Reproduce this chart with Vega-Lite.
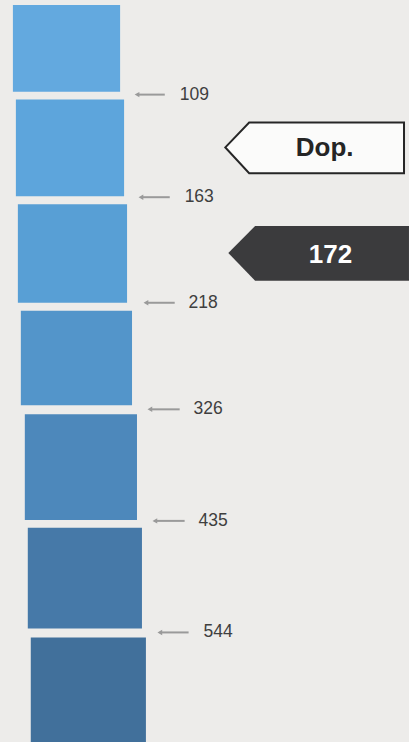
{
  "$schema": "https://vega.github.io/schema/vega-lite/v6.json",
  "width": 409,
  "height": 742,
  "padding": 0,
  "autosize": {"type": "fit", "contains": "padding"},
  "background": "#edecea",
  "config": {"view": {"stroke": null}},
  "datasets": {
    "pads": [
      {"pad": "1", "left": 13, "right": 121, "top": 5, "bottom": 92},
      {"pad": "2", "left": 16, "right": 125, "top": 100, "bottom": 197},
      {"pad": "3", "left": 18, "right": 128, "top": 205, "bottom": 304},
      {"pad": "4", "left": 21, "right": 133, "top": 312, "bottom": 407},
      {"pad": "5", "left": 25, "right": 138, "top": 416, "bottom": 522},
      {"pad": "6", "left": 28, "right": 143, "top": 530, "bottom": 631},
      {"pad": "7", "left": 31, "right": 147, "top": 640, "bottom": 745}
    ],
    "marks": [
      {"label": "109", "from": 138, "to": 166, "at": 95, "textAt": 181},
      {"label": "163", "from": 142, "to": 171, "at": 198, "textAt": 186},
      {"label": "218", "from": 147, "to": 176, "at": 304, "textAt": 190},
      {"label": "326", "from": 151, "to": 181, "at": 411, "textAt": 195},
      {"label": "435", "from": 156, "to": 186, "at": 523, "textAt": 200},
      {"label": "544", "from": 161, "to": 190, "at": 635, "textAt": 205}
    ],
    "tags": [
      {"tag": "Dop.", "px": 227, "lo": 148, "hi": 148},
      {"tag": "Dop.", "px": 251, "lo": 123, "hi": 174},
      {"tag": "Dop.", "px": 407, "lo": 123, "hi": 174},
      {"tag": "172", "px": 230, "lo": 254, "hi": 254},
      {"tag": "172", "px": 257, "lo": 227, "hi": 282},
      {"tag": "172", "px": 412, "lo": 227, "hi": 282}
    ],
    "tagText": [
      {"tag": "Dop.", "cx": 327, "cy": 149},
      {"tag": "172", "cx": 333, "cy": 256}
    ]
  },
  "layer": [
    {
      "data": {"name": "pads"},
      "mark": {"type": "rect"},
      "encoding": {
        "x": {"field": "left", "type": "quantitative", "scale": {"domain": [0, 409], "nice": false, "zero": false}, "axis": null},
        "x2": {"field": "right"},
        "y": {"field": "top", "type": "quantitative", "scale": {"domain": [0, 742], "nice": false, "zero": false, "reverse": true}, "axis": null},
        "y2": {"field": "bottom"},
        "color": {"field": "pad", "type": "nominal", "legend": null,
          "scale": {"domain": ["1", "2", "3", "4", "5", "6", "7"],
                    "range": ["#63a9df", "#5da5dc", "#589fd5", "#5395ca", "#4d88bb", "#4679a8", "#41709b"]}}
      }
    },
    {
      "data": {"name": "marks"},
      "mark": {"type": "rule", "color": "#9a9a9a", "strokeWidth": 2},
      "encoding": {
        "x": {"field": "from", "type": "quantitative", "axis": null},
        "x2": {"field": "to"},
        "y": {"field": "at", "type": "quantitative", "axis": null}
      }
    },
    {
      "data": {"name": "marks"},
      "mark": {"type": "point", "shape": "triangle-left", "filled": true, "size": 30, "color": "#9a9a9a", "opacity": 1},
      "encoding": {
        "x": {"field": "from", "type": "quantitative", "axis": null},
        "y": {"field": "at", "type": "quantitative", "axis": null}
      }
    },
    {
      "data": {"name": "marks"},
      "mark": {"type": "text", "align": "left", "baseline": "middle", "font": "Liberation Sans", "fontSize": 17.5, "color": "#3f3f3f"},
      "encoding": {
        "x": {"field": "textAt", "type": "quantitative", "axis": null},
        "y": {"field": "at", "type": "quantitative", "axis": null},
        "text": {"field": "label"}
      }
    },
    {
      "data": {"name": "tags"},
      "transform": [{"filter": "datum.tag === 'Dop.'"}],
      "mark": {"type": "area", "fill": "#fbfbfa", "stroke": "#262626", "strokeWidth": 2, "strokeJoin": "miter", "opacity": 1},
      "encoding": {
        "x": {"field": "px", "type": "quantitative", "axis": null},
        "y": {"field": "lo", "type": "quantitative", "axis": null},
        "y2": {"field": "hi"}
      }
    },
    {
      "data": {"name": "tags"},
      "transform": [{"filter": "datum.tag === '172'"}],
      "mark": {"type": "area", "fill": "#3b3b3d", "opacity": 1},
      "encoding": {
        "x": {"field": "px", "type": "quantitative", "axis": null},
        "y": {"field": "lo", "type": "quantitative", "axis": null},
        "y2": {"field": "hi"}
      }
    },
    {
      "data": {"name": "tagText"},
      "transform": [{"filter": "datum.tag === 'Dop.'"}],
      "mark": {"type": "text", "align": "center", "baseline": "middle", "font": "Liberation Sans", "fontWeight": "bold", "fontSize": 26, "color": "#252525"},
      "encoding": {
        "x": {"field": "cx", "type": "quantitative", "axis": null},
        "y": {"field": "cy", "type": "quantitative", "axis": null},
        "text": {"field": "tag"}
      }
    },
    {
      "data": {"name": "tagText"},
      "transform": [{"filter": "datum.tag === '172'"}],
      "mark": {"type": "text", "align": "center", "baseline": "middle", "font": "Liberation Sans", "fontWeight": "bold", "fontSize": 26, "color": "#ffffff"},
      "encoding": {
        "x": {"field": "cx", "type": "quantitative", "axis": null},
        "y": {"field": "cy", "type": "quantitative", "axis": null},
        "text": {"field": "tag"}
      }
    }
  ]
}
